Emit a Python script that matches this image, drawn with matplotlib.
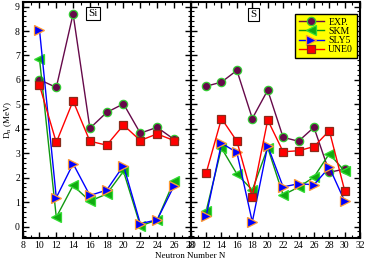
import matplotlib
matplotlib.use("Agg")
import matplotlib.pyplot as plt
from matplotlib.ticker import MultipleLocator

plt.rcParams['font.family'] = ['Liberation Serif', 'DejaVu Serif']
plt.rcParams['mathtext.fontset'] = 'stix'

# Si isotopes
n_si = [10, 12, 14, 16, 18, 20, 22, 24, 26]
si_exp = [6.01, 5.69, 8.70, 4.02, 4.67, 5.02, 3.82, 4.06, 3.57]
si_skm = [6.86, 0.38, 1.68, 1.04, 1.33, 2.26, 0.03, 0.26, 1.85]
si_sly5 = [8.05, 1.18, 2.57, 1.27, 1.49, 2.49, 0.12, 0.27, 1.65]
si_une0 = [5.78, 3.44, 5.14, 3.49, 3.33, 4.15, 3.52, 3.79, 3.52]

# S isotopes
n_s = [12, 14, 16, 18, 20, 22, 24, 26, 28, 30]
s_exp = [5.74, 5.91, 6.39, 4.42, 5.58, 3.65, 3.49, 4.06, 2.22, 2.35]
s_skm = [0.62, 3.21, 2.15, 1.49, 3.23, 1.29, 1.61, 2.02, 2.98, 2.26]
s_sly5 = [0.41, 3.41, 3.03, 0.19, 3.30, 1.62, 1.75, 1.71, 2.42, 1.03]
s_une0 = [2.18, 4.42, 3.49, 1.22, 4.36, 3.06, 3.10, 3.27, 3.92, 1.46]

labels = ['EXP.', 'SKM', 'SLY5', 'UNE0']

styles = [
    dict(color='#66094a', marker='o', markerfacecolor='#66094a', markeredgecolor='#33cc33', markersize=6),
    dict(color='#119911', marker='<', markerfacecolor='#11aa11', markeredgecolor='#33dd33', markersize=7),
    dict(color='#0000ff', marker='>', markerfacecolor='#0000ff', markeredgecolor='#ff9933', markersize=7),
    dict(color='#ff0000', marker='s', markerfacecolor='#ff0000', markeredgecolor='#8a2a1a', markersize=6),
]

fig = plt.figure(figsize=(3.66, 2.63), dpi=100)
ax1 = fig.add_axes([0.062, 0.096, 0.459, 0.8975])
ax2 = fig.add_axes([0.521, 0.096, 0.463, 0.8975])

for y, st, lab in zip([si_exp, si_skm, si_sly5, si_une0], styles, labels):
    ax1.plot(n_si, y, lw=1.0, markeredgewidth=0.9, label=lab, **st)
for y, st, lab in zip([s_exp, s_skm, s_sly5, s_une0], styles, labels):
    ax2.plot(n_s, y, lw=1.0, markeredgewidth=0.9, label=lab, **st)

ax1.set_xlim(8, 28)
ax2.set_xlim(10, 32)
for ax in (ax1, ax2):
    ax.set_ylim(-0.46, 9.2)
    ax.xaxis.set_major_locator(MultipleLocator(2))
    ax.xaxis.set_minor_locator(MultipleLocator(1))
    ax.yaxis.set_major_locator(MultipleLocator(1))
    ax.yaxis.set_minor_locator(MultipleLocator(0.2))
    ax.tick_params(which='both', direction='in', top=True, right=True, labelsize=7, pad=2)
    ax.tick_params(which='major', length=4, width=1.0)
    ax.tick_params(which='minor', length=2, width=0.8)
    for sp in ax.spines.values():
        sp.set_linewidth(1.5)
ax2.tick_params(labelleft=False)

ax1.set_ylabel(r'D$_{\rm n}$ (MeV)', fontsize=6.5, labelpad=1)
fig.text(0.52, 0.02, 'Neutron Number N', ha='center', fontsize=6.5)

box = dict(boxstyle='square,pad=0.2', facecolor='white', edgecolor='black', linewidth=0.8)
ax1.text(0.42, 0.95, 'Si', transform=ax1.transAxes, ha='center', va='center', fontsize=8, bbox=box)
ax2.text(0.37, 0.945, 'S', transform=ax2.transAxes, ha='center', va='center', fontsize=8, bbox=box)

leg = ax2.legend(loc='upper right', bbox_to_anchor=(0.99, 0.955), fontsize=7, frameon=True,
                 fancybox=False, handlelength=2.6, handletextpad=0.45, borderpad=0.35,
                 labelspacing=0.02, borderaxespad=0.2)
leg.get_frame().set_facecolor('#ffff00')
leg.get_frame().set_edgecolor('black')
leg.get_frame().set_linewidth(1.0)
leg.get_frame().set_alpha(1.0)

fig.savefig('out.png', dpi=100)
